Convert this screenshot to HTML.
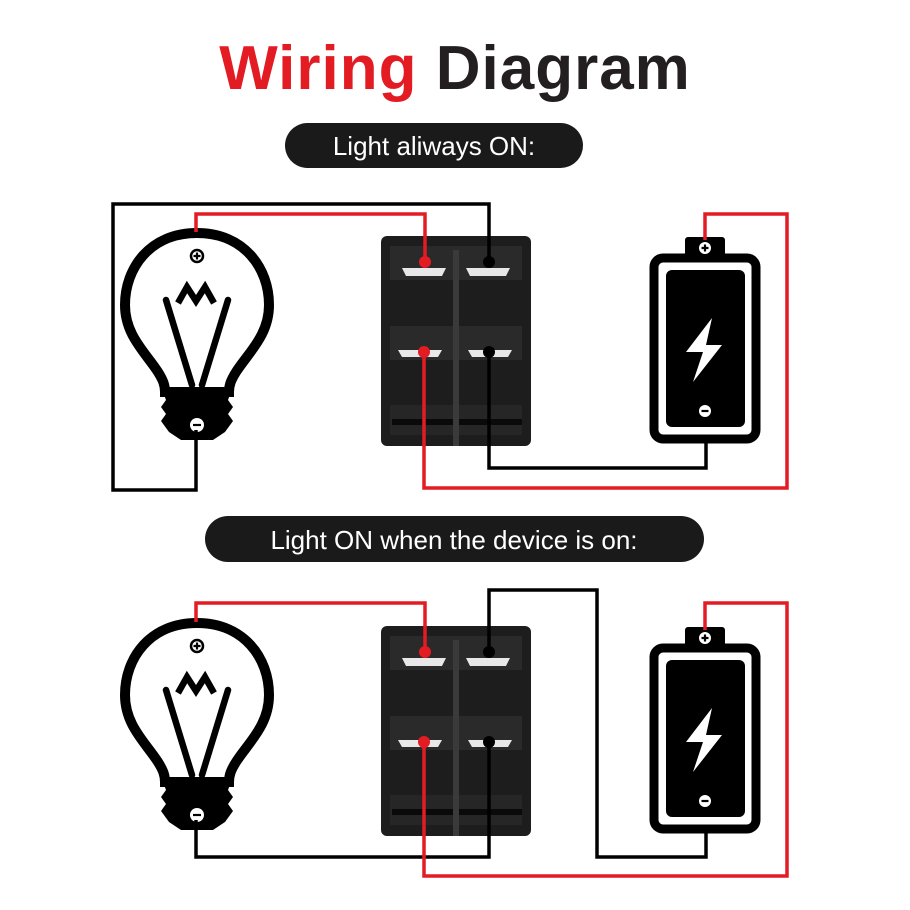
<!DOCTYPE html>
<html><head><meta charset="utf-8"><style>
html,body{margin:0;padding:0;background:#fff;width:910px;height:910px;overflow:hidden}
svg{display:block}
</style></head><body>
<svg width="910" height="910" viewBox="0 0 910 910" xmlns="http://www.w3.org/2000/svg">
<defs>
<g id="bulb">
  <path d="M197,233 C150,233 125,268 125,305 C125,335 145,352 158,372 C163,380 165,385 165,392 L229,392 C229,385 231,380 236,372 C249,352 269,335 269,305 C269,268 244,233 197,233 Z" fill="#fff" stroke="#000" stroke-width="10"/>
  <path d="M163,392 L231,392 L228,400 L233,407 L228,414 L233,421 L225,432 L213,440 L181,440 L169,432 L161,421 L166,414 L161,407 L166,400 Z" fill="#000"/>
  <circle cx="197" cy="256" r="6" fill="#fff" stroke="#000" stroke-width="2.5"/>
  <path d="M193.5,256h7M197,252.5v7" stroke="#000" stroke-width="2.2"/>
  <circle cx="197" cy="425" r="7" fill="#fff"/>
  <path d="M193,425h8" stroke="#000" stroke-width="2.2"/>
  <polyline points="178,303 187,287 196,301 205,287 214,303" fill="none" stroke="#000" stroke-width="6.5" stroke-linejoin="miter"/>
  <line x1="166" y1="300" x2="192" y2="385" stroke="#000" stroke-width="6.5" stroke-linecap="round"/>
  <line x1="228" y1="300" x2="202" y2="385" stroke="#000" stroke-width="6.5" stroke-linecap="round"/>
</g>
<g id="batt">
  <rect x="685" y="237" width="40" height="22" rx="3" fill="#000"/>
  <rect x="654" y="258" width="102" height="181" rx="9" fill="#fff" stroke="#000" stroke-width="9"/>
  <rect x="666" y="270" width="79" height="157" rx="6" fill="#000"/>
  <circle cx="705" cy="248" r="6" fill="#fff"/>
  <path d="M701.5,248h7M705,244.5v7" stroke="#000" stroke-width="2.2"/>
  <circle cx="705" cy="411" r="6" fill="#fff"/>
  <path d="M701.5,411h7" stroke="#000" stroke-width="2.2"/>
  <path d="M712,318 L686,352 L703,352 L693,382 L722,345 L706,345 Z" fill="#fff"/>
</g>
<g id="sw">
  <rect x="381" y="236" width="150" height="210" rx="6" fill="#1d1d1d"/>
  <rect x="390" y="246" width="132" height="34" fill="#2a2a2a"/>
  <rect x="390" y="326" width="132" height="34" fill="#2a2a2a"/>
  <rect x="390" y="405" width="132" height="30" fill="#262626"/>
  <rect x="392" y="419" width="130" height="6" fill="#0a0a0a"/>
  <rect x="453" y="250" width="6" height="196" fill="#3a3a3a"/>
  <path d="M402,268 h44 l-4,8 h-36 z" fill="#e8e8e8"/>
  <path d="M466,268 h44 l-4,8 h-36 z" fill="#e8e8e8"/>
  <path d="M398,350 h44 l-4,7 h-36 z" fill="#e8e8e8"/>
  <path d="M468,350 h44 l-4,7 h-36 z" fill="#e8e8e8"/>
</g>
</defs>

<text x="455" y="89" text-anchor="middle" font-family="Liberation Sans, sans-serif" font-weight="bold" font-size="62" letter-spacing="1"><tspan fill="#e31b23">Wiring</tspan><tspan fill="#231f20"> Diagram</tspan></text>

<rect x="285" y="123" width="298" height="45" rx="22.5" fill="#1a1a1a"/>
<text x="434" y="155" text-anchor="middle" font-family="Liberation Sans, sans-serif" font-size="26" fill="#fff">Light aliways ON:</text>
<rect x="205" y="516" width="499" height="46" rx="23" fill="#1a1a1a"/>
<text x="454" y="549" text-anchor="middle" font-family="Liberation Sans, sans-serif" font-size="26" fill="#fff">Light ON when the device is on:</text>

<use href="#sw"/>
<use href="#bulb"/>
<use href="#batt"/>
<g fill="none" stroke-width="3.5">
  <polyline points="489,262 489,204 113,204 113,490 196,490 196,430" stroke="#000"/>
  <polyline points="489,352 489,468 706,468 706,438" stroke="#000"/>
  <polyline points="196,232 196,214 425,214 425,262" stroke="#e31b23"/>
  <polyline points="705,240 705,214 787,214 787,488 424,488 424,352" stroke="#e31b23"/>
</g>
<g fill="#e31b23"><circle cx="425" cy="262" r="6"/><circle cx="424" cy="352" r="6"/></g>
<g fill="#000"><circle cx="489" cy="262" r="6"/><circle cx="489" cy="352" r="6"/></g>

<g transform="translate(0,390)">
  <use href="#sw"/>
  <use href="#bulb"/>
  <use href="#batt"/>
</g>
<g fill="none" stroke-width="3.5">
  <polyline points="489,652 489,590 597,590 597,857 706,857 706,828" stroke="#000"/>
  <polyline points="196,820 196,857 489,857 489,742" stroke="#000"/>
  <polyline points="196,622 196,603 425,603 425,652" stroke="#e31b23"/>
  <polyline points="705,630 705,603 787,603 787,876 424,876 424,742" stroke="#e31b23"/>
</g>
<g fill="#e31b23"><circle cx="425" cy="652" r="6"/><circle cx="424" cy="742" r="6"/></g>
<g fill="#000"><circle cx="489" cy="652" r="6"/><circle cx="489" cy="742" r="6"/></g>
</svg>
</body></html>
